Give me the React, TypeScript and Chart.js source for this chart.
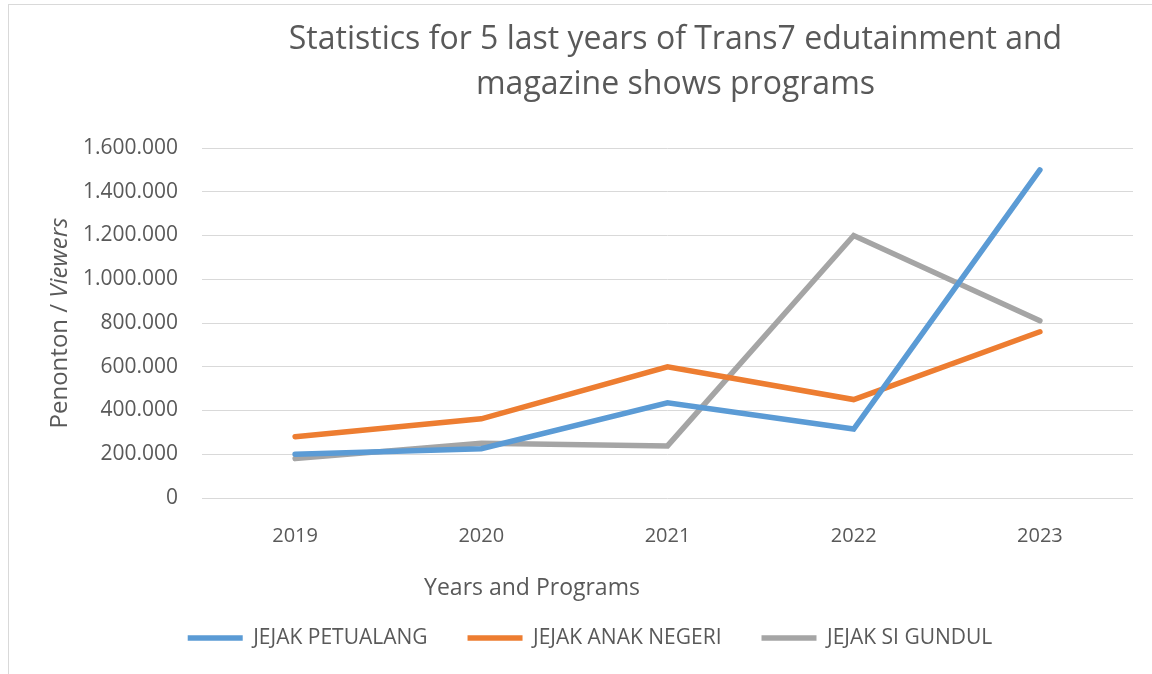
import React, { useEffect, useRef } from "react";
import { Chart, registerables } from "chart.js";

Chart.register(...registerables);

const years = ["2019", "2020", "2021", "2022", "2023"];
const jejakPetualang = [200000, 225000, 435000, 315000, 1500000];
const jejakAnakNegeri = [280000, 362000, 600000, 450000, 760000];
const jejakSiGundul = [180000, 250000, 238000, 1200000, 810000];
const seriesNames = ["JEJAK PETUALANG", "JEJAK ANAK NEGERI", "JEJAK SI GUNDUL"];
const titleLines = [
  "Statistics for 5 last years of Trans7 edutainment and",
  "magazine shows programs",
];
const xTitle = "Years and Programs";
const yTitleNormal = "Penonton / ";
const yTitleItalic = "Viewers";

const FONT = "'Open Sans', sans-serif";
const TEXT = "#595959";

const fmt = (v: number) =>
  String(Math.round(v)).replace(/\B(?=(\d{3})+(?!\d))/g, ".");

const titlesPlugin = {
  id: "customTitles",
  afterDraw(chart: any) {
    const ctx = chart.ctx;
    const area = chart.chartArea;
    ctx.save();
    ctx.fillStyle = TEXT;
    // main title
    ctx.font = `32px ${FONT}`;
    ctx.textAlign = "center";
    ctx.textBaseline = "alphabetic";
    const cx = (area.left + area.right) / 2 + 8;
    ctx.fillText(titleLines[0], cx, 44);
    ctx.fillText(titleLines[1], cx, 89);
    // x title
    ctx.font = `23px ${FONT}`;
    ctx.fillText(xTitle, 523, 590);
    // y title (mixed style)
    ctx.translate(58, (area.top + area.bottom) / 2);
    ctx.rotate(-Math.PI / 2);
    ctx.textAlign = "left";
    ctx.font = `24px ${FONT}`;
    const w1 = ctx.measureText(yTitleNormal).width;
    ctx.font = `italic 24px ${FONT}`;
    const w2 = ctx.measureText(yTitleItalic).width;
    const start = -(w1 + w2) / 2;
    ctx.font = `24px ${FONT}`;
    ctx.fillText(yTitleNormal, start, 0);
    ctx.font = `italic 24px ${FONT}`;
    ctx.fillText(yTitleItalic, start + w1, 0);
    ctx.restore();
  },
};

export default function App() {
  const ref = useRef<HTMLCanvasElement>(null);
  useEffect(() => {
    if (!ref.current) return;
    const mk = (label: string, data: number[], color: string) => ({
      label,
      data,
      borderColor: color,
      backgroundColor: color,
      borderWidth: 5.5,
      borderCapStyle: "round" as const,
      pointRadius: 0,
      pointHoverRadius: 0,
      tension: 0,
      fill: false,
    });
    const chart = new Chart(ref.current, {
      type: "line",
      data: {
        labels: years,
        datasets: [
          mk(seriesNames[0], jejakPetualang, "#5B9BD5"),
          mk(seriesNames[1], jejakAnakNegeri, "#ED7D31"),
          mk(seriesNames[2], jejakSiGundul, "#A5A5A5"),
        ],
      },
      options: {
        animation: false,
        responsive: false,
        devicePixelRatio: 1,
        layout: { padding: { top: 143, left: 38, right: 19, bottom: 15.5 } },
        plugins: {
          title: { display: false },
          tooltip: { enabled: false },
          legend: {
            position: "bottom",
            labels: {
              usePointStyle: true,
              pointStyle: "line",
              pointStyleWidth: 55,
              padding: 40,
              color: TEXT,
              font: { family: FONT, size: 21 },
            },
          },
        },
        scales: {
          x: {
            offset: true,
            grid: { display: false },
            border: { display: false },
            ticks: { color: TEXT, padding: 18, font: { family: FONT, size: 20 } },
            afterFit: (s: any) => {
              s.height = 89.5;
            },
          },
          y: {
            min: 0,
            max: 1600000,
            grid: { color: "#D9D9D9", lineWidth: 1, drawTicks: false },
            border: { display: false },
            ticks: {
              stepSize: 200000,
              color: TEXT,
              padding: 24,
              font: { family: FONT, size: 21 },
              callback: (v: any) => fmt(Number(v)),
            },
            afterFit: (s: any) => {
              s.width = 155;
            },
          },
        },
      },
      plugins: [titlesPlugin],
    });
    return () => chart.destroy();
  }, []);
  return (
    <div
      style={{
        position: "fixed",
        left: 8,
        top: 4,
        width: 1144,
        height: 670,
        borderTop: "1px solid #D9D9D9",
        borderLeft: "1px solid #D9D9D9",
        background: "#fff",
      }}
    >
      <canvas
        ref={ref}
        width={1143}
        height={669}
        style={{ display: "block", width: 1143, height: 669 }}
      />
    </div>
  );
}
